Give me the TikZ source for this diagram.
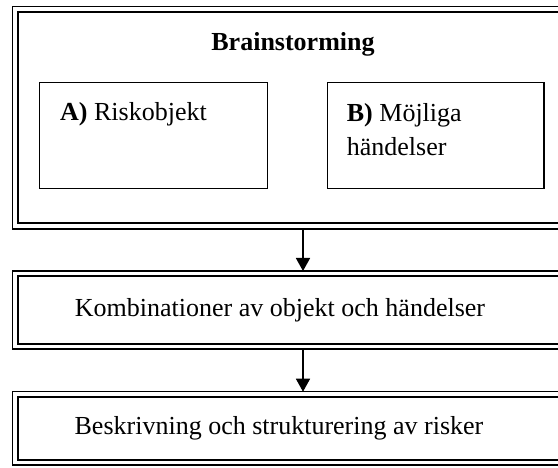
\documentclass[tikz,border=0pt]{standalone}
\usepackage{fontspec}
\setmainfont{Liberation Serif}
\usetikzlibrary{arrows.meta}

\tikzset{
  outerframe/.style={draw, line width=1.1pt, rectangle, inner sep=0pt, outer sep=0pt},
  innerframe/.style={draw, line width=2pt},
  subbox/.style={draw, line width=1.4pt, rectangle, inner sep=0pt, outer sep=0pt},
  label/.style={inner sep=0pt, font=\fontsize{26}{34}\selectfont},
  flow/.style={line width=1.5pt, -{Triangle[width=14pt,length=13pt]}}
}

\newcommand{\doubleframe}[1]{%
  \draw[innerframe] ([xshift=5.5pt,yshift=-5.5pt]#1.north west)
    rectangle ([xshift=-5.5pt,yshift=5.5pt]#1.south east);}

\begin{document}
\begin{tikzpicture}[x=1pt,y=1pt]
  \useasboundingbox (0,0) rectangle (558,467);
  \clip (0,0) rectangle (558,467);

  % framed stages
  \node[outerframe, minimum width=557.5pt, minimum height=222.5pt] (brain) at (291.25,349.25) {};
  \node[outerframe, minimum width=557.5pt, minimum height=78pt] (komb) at (291.25,157) {};
  \node[outerframe, minimum width=557.5pt, minimum height=73.3pt] (beskr) at (291.25,38.65) {};
  \doubleframe{brain}
  \doubleframe{komb}
  \doubleframe{beskr}

  % brainstorming sub-boxes
  \node[subbox, minimum width=228.4pt, minimum height=105.6pt] (riskA) at (153.5,331.5) {};
  \node[subbox, minimum width=216.7pt, minimum height=105.6pt] (riskB) at (435.65,331.5) {};

  % texts
  \node[label, font=\fontsize{26}{34}\selectfont\bfseries] (title) at (293,423) {Brainstorming};
  \node[label, anchor=base west] (textA) at (60,346) {\textbf{A)} Riskobjekt};
  \node[label, anchor=north west, align=left] (textB) at (346.7,363.5) {\textbf{B)} Möjliga\\händelser};
  \node[label] (textK) at (280,157) {Kombinationer av objekt och händelser};
  \node[label] (textS) at (279,39) {Beskrivning och strukturering av risker};

  % flow arrows
  \coordinate (axis) at (303,0);
  \draw[flow] (brain.south -| axis) -- (komb.north -| axis);
  \draw[flow] (komb.south -| axis) -- (beskr.north -| axis);
\end{tikzpicture}
\end{document}
